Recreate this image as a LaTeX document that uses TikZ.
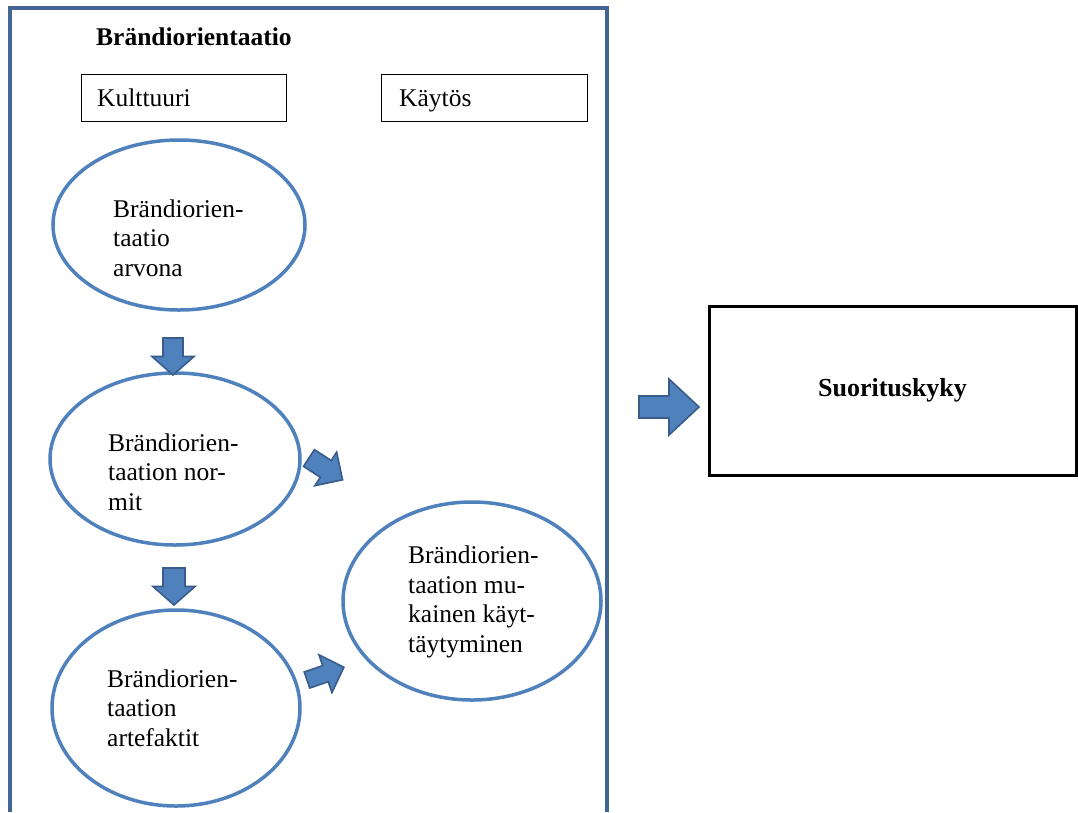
\documentclass[tikz,border=0pt]{standalone}
\usepackage{fontspec}
\setmainfont{Liberation Serif}
\usetikzlibrary{shapes.geometric}
\definecolor{framec}{RGB}{66,101,150}
\definecolor{ellc}{RGB}{79,129,189}
\definecolor{arrfill}{RGB}{79,129,189}
\definecolor{arrline}{RGB}{56,93,138}
\tikzset{
  oval/.style={ellipse,draw=ellc,line width=3.5pt,fill=white,inner sep=0pt},
  labelbox/.style={rectangle,draw=black,line width=1pt,inner sep=0pt},
  txt/.style={inner sep=0pt,align=left,font=\fontsize{25.5}{29.5}\selectfont},
  blk/.style={fill=arrfill,draw=arrline,line width=1.6pt,line join=miter}
}
% block arrow: position, angle, length, shaft half-width, head half-width
\newcommand\blkarrow[5]{%
  \begin{scope}[shift={#1},rotate=#2]
    \draw[blk] (0,#4)--({#3/2},#4)--({#3/2},#5)--(#3,0)--({#3/2},-#5)--({#3/2},-#4)--(0,-#4)--cycle;
  \end{scope}}
\begin{document}
\begin{tikzpicture}[x=1pt,y=-1pt]
\useasboundingbox[fill=white] (0,0) rectangle (1078,812);
% frame of the brand orientation area
\draw[framec,line width=3.5pt] (10,812)--(10,8)--(607,8)--(607,812);
\node[txt,anchor=base west,font=\fontsize{25.5}{29.5}\selectfont\bfseries] (title) at (96,45) {Brändiorientaatio};
% column headers
\node[labelbox,minimum width=205pt,minimum height=47pt] (cult) at (183.5,97.5) {};
\node[txt,anchor=base west] (cultt) at (97,106) {Kulttuuri};
\node[labelbox,minimum width=206pt,minimum height=47pt] (beh) at (484,97.5) {};
\node[txt,anchor=base west] (beht) at (399,106) {Käytös};
% ellipses
\node[oval,minimum width=252pt,minimum height=170pt] (e1) at (179,225) {};
\node[oval,minimum width=250pt,minimum height=172pt] (e2) at (175,459) {};
\node[oval,minimum width=248pt,minimum height=196pt] (e3) at (176,708) {};
\node[oval,minimum width=258pt,minimum height=198pt] (e4) at (472,601) {};
% text blocks (anchored at the baseline of their last line)
\node[txt,anchor=base west] (t1) at (113,276) {Brändiorien-\\taatio\\arvona};
\node[txt,anchor=base west] (t2) at (108,510) {Brändiorien-\\taation nor-\\mit};
\node[txt,anchor=base west] (t3) at (107,746) {Brändiorien-\\taation\\artefaktit};
\node[txt,anchor=base west] (t4) at (408,652) {Brändiorien-\\taation mu-\\kainen käyt-\\täytyminen};
% performance box
\node[rectangle,draw=black,line width=3pt,minimum width=367pt,minimum height=169pt] (perf) at (892.5,390.5) {};
\node[txt,font=\fontsize{26}{30}\selectfont\bfseries] (perft) at (perf.center) {Suorituskyky};
% block arrows
\blkarrow{(173,338)}{-90}{37}{10}{21}
\blkarrow{(174,568)}{-90}{37}{11}{21}
\blkarrow{(309,458)}{-33}{40}{10}{20}
\blkarrow{(307,680)}{19}{39}{8.5}{20}
\blkarrow{(639,407)}{0}{60}{11}{28}
\end{tikzpicture}
\end{document}
